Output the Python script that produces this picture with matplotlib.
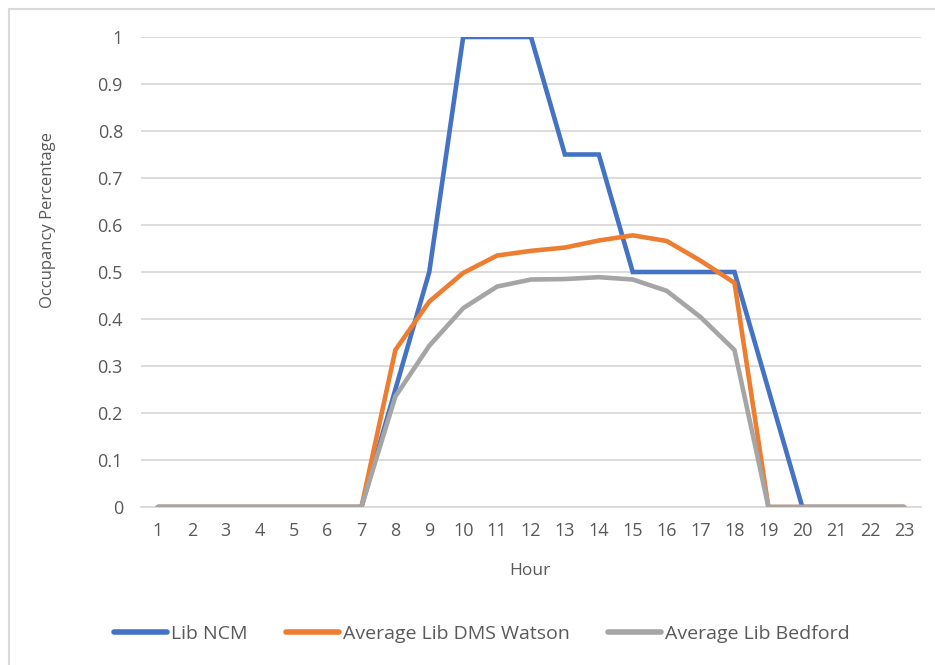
import matplotlib.pyplot as plt
from matplotlib.patches import Rectangle

hours = list(range(1, 24))
lib_ncm = [0, 0, 0, 0, 0, 0, 0, 0.25, 0.5, 1, 1, 1, 0.75, 0.75, 0.5, 0.5, 0.5, 0.5,
           0.25, 0, 0, 0, 0]
dms_watson = [0, 0, 0, 0, 0, 0, 0, 0.334, 0.437, 0.498, 0.535, 0.545, 0.552, 0.567,
              0.578, 0.566, 0.524, 0.477, 0, 0, 0, 0, 0]
bedford = [0, 0, 0, 0, 0, 0, 0, 0.235, 0.343, 0.423, 0.469, 0.484, 0.485, 0.489,
           0.484, 0.460, 0.404, 0.334, 0, 0, 0, 0, 0]
series_names = ['Lib NCM', 'Average Lib DMS Watson', 'Average Lib Bedford']
colors = ['#4472C4', '#ED7D31', '#A5A5A5']

plt.rcParams['font.family'] = ['Open Sans', 'DejaVu Sans']
txt = '#595959'

W, H = 935, 665
fig = plt.figure(figsize=(W / 100, H / 100), dpi=100)
ax = fig.add_axes([141 / W, 1 - 507 / H, (921 - 141) / W, (507 - 37) / H])

for vals, name, c in zip([lib_ncm, dms_watson, bedford], series_names, colors):
    ax.plot(hours, vals, color=c, lw=3.3, label=name, solid_capstyle='round',
            solid_joinstyle='miter', zorder=3)

ax.set_xlim(0.5, 23.5)
ax.set_ylim(0, 1)
ax.set_yticks([i / 10 for i in range(11)])
ax.set_yticklabels(['0'] + ['%.1f' % (i / 10) for i in range(1, 10)] + ['1'])
ax.set_xticks(hours)
ax.grid(axis='y', color='#d9d9d9', lw=1.3, zorder=0)
for s in ['top', 'right', 'left']:
    ax.spines[s].set_visible(False)
ax.spines['bottom'].set_color('#d9d9d9')
ax.spines['bottom'].set_linewidth(1.3)
ax.tick_params(length=0, labelsize=13, colors=txt)
ax.tick_params(axis='y', pad=13)
ax.tick_params(axis='x', pad=11)

fig.text(48 / W, 1 - 220 / H, 'Occupancy Percentage', rotation=90, ha='center',
         va='center', fontsize=12, color=txt)
fig.text(530 / W, 1 - 571 / H, 'Hour', ha='center', va='center', fontsize=12.5,
         color=txt)

leg = ax.legend(loc='center', bbox_to_anchor=(482 / W, 1 - 634 / H),
                bbox_transform=fig.transFigure, ncol=3, frameon=False, fontsize=14,
                handlelength=2.7, handletextpad=0.2, columnspacing=2.0)
for t in leg.get_texts():
    t.set_color(txt)
for h in leg.get_lines():
    h.set_linewidth(4.0)

fig.patches.append(Rectangle((9 / W, -0.01), 1.0, 1 - 9 / H + 0.01,
                             transform=fig.transFigure, fill=False,
                             edgecolor='#d9d9d9', lw=1.5))

fig.savefig('out.png', dpi=100)
